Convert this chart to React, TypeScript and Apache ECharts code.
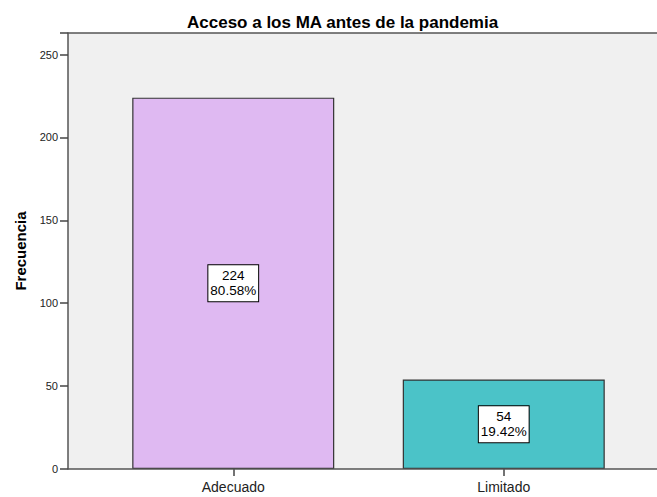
import React, { useEffect, useRef } from "react";
import * as echarts from "echarts";

const categories: string[] = ["Adecuado", "Limitado"];
const counts: number[] = [224, 54];
const percents: string[] = ["80.58%", "19.42%"];
const barColors: string[] = ["#dfb9f2", "#4bc3c8"];
const yTicks = { min: 0, max: 263, interval: 50 };
const titleText = "Acceso a los MA antes de la pandemia";
const yName = "Frecuencia";

const FONT = "'Liberation Sans', Arial, sans-serif";

export default function App() {
  const ref = useRef<HTMLDivElement>(null);
  useEffect(() => {
    if (!ref.current) return;
    const chart = echarts.init(ref.current, undefined, { renderer: "svg" });
    const plotLeft = 68;
    const plotTop = 33;
    const plotBottom = 469;
    const W = 657;
    chart.setOption({
      animation: false,
      backgroundColor: "#ffffff",
      textStyle: { fontFamily: FONT },
      title: {
        text: titleText,
        left: 182,
        top: 9,
        textStyle: { fontFamily: FONT, fontSize: 17, fontWeight: "bold", color: "#000" },
      },
      grid: { left: 98, right: 18, top: plotTop, bottom: 497 - plotBottom, containLabel: false },
      xAxis: {
        type: "category",
        data: categories,
        axisLine: { show: false },
        axisTick: { show: true, alignWithLabel: true, length: 7, lineStyle: { color: "#444", width: 1.5 } },
        axisLabel: { fontSize: 14, color: "#222", margin: 11, fontFamily: FONT },
        splitLine: { show: false },
      },
      yAxis: {
        type: "value",
        min: yTicks.min,
        max: yTicks.max,
        interval: yTicks.interval,
        offset: 30,
        name: yName,
        nameLocation: "middle",
        nameRotate: 90,
        nameGap: 40,
        nameTextStyle: { fontSize: 15, fontWeight: "bold", color: "#000", fontFamily: FONT },
        axisLine: { show: true, lineStyle: { color: "#555", width: 1.5 } },
        axisTick: { show: true, length: 8, lineStyle: { color: "#444", width: 1.5 } },
        axisLabel: {
          fontSize: 11,
          color: "#222",
          margin: 10,
          fontFamily: FONT,
          formatter: (v: number) => (v % 50 === 0 ? String(v) : ""),
        },
        splitLine: { show: false },
      },
      graphic: [
        {
          type: "rect",
          z: -10,
          shape: { x: plotLeft, y: plotTop, width: W - plotLeft, height: plotBottom - plotTop },
          style: { fill: "#f0f0f0" },
          silent: true,
        },
        {
          type: "line",
          z: 100,
          shape: { x1: plotLeft, y1: plotTop, x2: W, y2: plotTop },
          style: { stroke: "#555", lineWidth: 1.5 },
          silent: true,
        },
        {
          type: "line",
          z: 100,
          shape: { x1: plotLeft, y1: plotBottom, x2: W, y2: plotBottom },
          style: { stroke: "#555", lineWidth: 1.5 },
          silent: true,
        },
      ],
      series: [
        {
          type: "bar",
          barWidth: 202,
          data: counts.map((v, i) => ({
            value: v,
            itemStyle: { color: barColors[i], borderColor: "#333", borderWidth: 1.2 },
          })),
          label: {
            show: true,
            position: "inside",
            formatter: (p: any) => `${counts[p.dataIndex]}\n${percents[p.dataIndex]}`,
            fontSize: 13.5,
            lineHeight: 15,
            color: "#000",
            fontFamily: FONT,
            align: "center",
            backgroundColor: "#ffffff",
            borderColor: "#000",
            borderWidth: 1,
            padding: [3, 2, 3, 2],
          },
        },
      ],
    });
    return () => chart.dispose();
  }, []);
  return (
    <div
      ref={ref}
      style={{ position: "fixed", left: 0, top: 0, width: 657, height: 497 }}
    />
  );
}
